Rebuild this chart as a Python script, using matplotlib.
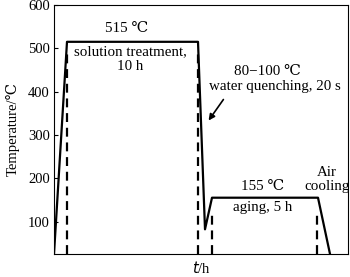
import matplotlib.pyplot as plt

plt.rcParams['font.family'] = ['Liberation Serif', 'DejaVu Serif', 'DejaVu Sans']

# heat treatment path (time in arbitrary units, temperature in degC)
path_t = [0, 13, 144, 151, 158, 264, 276]
path_T = [25, 515, 515, 82, 155, 155, 25]

# dashed stage markers
mark_t = [13.3, 143.7, 157.7, 262.7]
mark_top = [491, 491, 123, 123]

y_ticks = [100, 200, 300, 400, 500, 600]

fig = plt.figure(figsize=(3.5, 2.77), dpi=100)
ax = fig.add_axes([54 / 350, 1 - 254 / 277, 294 / 350, 249 / 277])

ax.plot(path_t, path_T, color='black', linewidth=1.6, zorder=3)
for t, top in zip(mark_t, mark_top):
    ax.plot([t, t], [25, top], color='black', linewidth=1.6,
            linestyle=(0, (4, 2.6)), zorder=2)

ax.set_xlim(0, 294)
ax.set_ylim(25, 600)
ax.set_xticks([])
ax.set_yticks(y_ticks)
ax.tick_params(axis='y', direction='in', length=3, labelsize=10.5, pad=3)
ax.set_ylabel('Temperature/\u2103', fontsize=10.5, labelpad=6)
ax.set_xlabel('$t$/h', fontsize=10.5, labelpad=4)

fs = 10.8
ax.text(73, 545, '515 \u2103', ha='center', va='center', fontsize=fs)
ax.text(76, 492, 'solution treatment,', ha='center', va='center', fontsize=fs)
ax.text(76, 458, '10 h', ha='center', va='center', fontsize=fs)
ax.text(213, 446, '80\u2212100 \u2103', ha='center', va='center', fontsize=fs)
ax.text(221, 411, 'water quenching, 20 s', ha='center', va='center', fontsize=fs)
ax.annotate('', xy=(153, 328), xytext=(171, 387),
            arrowprops=dict(arrowstyle='-|>', color='black', lw=1.2,
                            mutation_scale=9))
ax.text(209, 180, '155 \u2103', ha='center', va='center', fontsize=fs)
ax.text(209, 132, 'aging, 5 h', ha='center', va='center', fontsize=fs)
ax.text(273, 213, 'Air', ha='center', va='center', fontsize=fs)
ax.text(273, 180, 'cooling', ha='center', va='center', fontsize=fs)

fig.savefig('out.png', dpi=100)
